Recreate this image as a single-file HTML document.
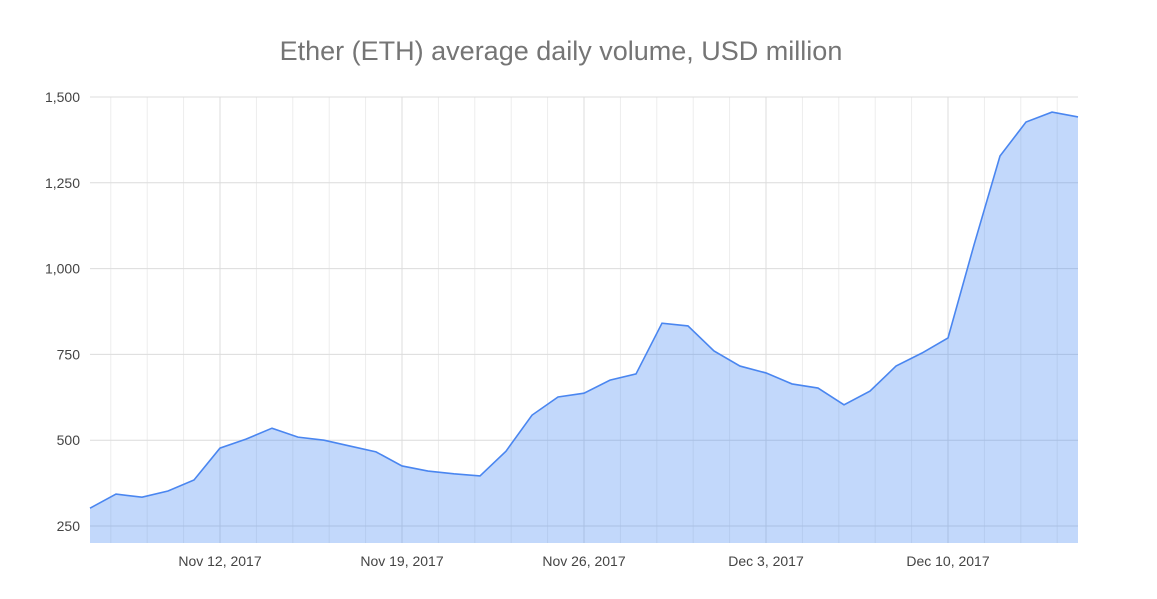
<!DOCTYPE html>
<html><head><meta charset="utf-8"><style>
body{margin:0;background:#fff;width:1157px;height:594px;overflow:hidden}
text{font-family:"Liberation Sans",Arial,sans-serif}
</style></head><body>
<svg id="chart" width="1157" height="594" xmlns="http://www.w3.org/2000/svg">
<text x="561" y="60" text-anchor="middle" font-size="27" fill="#757575">Ether (ETH) average daily volume, USD million</text>
<g id="grid"></g><g id="area"></g><g id="axes"></g>
</svg>
<script>
const values=[302,343,334,352,384,477,503,535,509,500,483,466,425,410,402,396,468,573,626,637,675,693,841,833,760,716,696,664,652,603,643,716,754,798,1069,1328,1427,1456,1442];
const yTicks=[250,500,750,1000,1250,1500];
const xLabels=["Nov 12, 2017","Nov 19, 2017","Nov 26, 2017","Dec 3, 2017","Dec 10, 2017"];
const xLabelDays=[5,12,19,26,33];
const NS="http://www.w3.org/2000/svg";
const x0=90,dx=26,bottom=543;
const X=d=>x0+d*dx;
const Y=v=>526-(v-250)*0.3432;
function mk(tag,attrs,parent){const e=document.createElementNS(NS,tag);for(const k in attrs)e.setAttribute(k,attrs[k]);document.getElementById(parent).appendChild(e);return e;}
// vertical minor/major grid
for(let k=-3;k<=24;k++){const x=X(5)+k*36.4;if(x<x0||x>X(38))continue;
 const l=mk('line',{x1:x,x2:x,y1:97,y2:bottom,stroke:k%5===0?'#dcdcdc':'#ededed','stroke-width':1},'grid');
 }
yTicks.forEach(v=>{const l=mk('line',{x1:x0,x2:X(38),y1:Y(v),y2:Y(v),stroke:'#dcdcdc','stroke-width':1},'grid');
 
 const t=mk('text',{x:80,y:Y(v)+5,'text-anchor':'end','font-size':14,fill:'#444'},'axes');t.textContent=v.toLocaleString('en-US');
 });
xLabels.forEach((s,i)=>{const t=mk('text',{x:X(xLabelDays[i]),y:566,'text-anchor':'middle','font-size':14,fill:'#444'},'axes');t.textContent=s;
 });
const pts=values.map((v,i)=>X(i)+','+Y(v)).join(' ');
const a=mk('polygon',{points:X(0)+','+bottom+' '+pts+' '+X(values.length-1)+','+bottom,fill:'#4285f4','fill-opacity':0.32},'area');

const p=mk('polyline',{points:pts,fill:'none',stroke:'#4a86f0','stroke-width':1.6},'area');

</script>
</body></html>
